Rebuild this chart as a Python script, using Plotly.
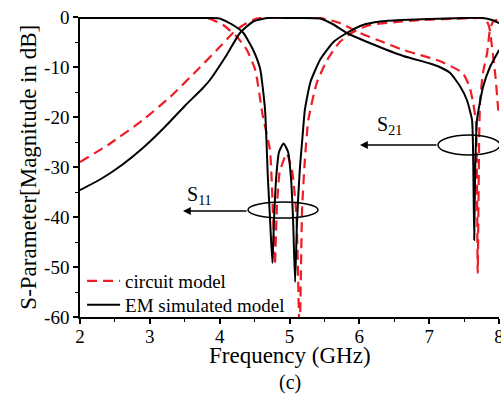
import plotly.graph_objects as go

# Frequency (GHz) / magnitude (dB) samples for each curve
em_s21_f = [2.0, 2.3, 2.6, 2.9, 3.2, 3.5, 3.76, 3.86, 4.1, 4.29, 4.48, 4.68, 5.0, 5.44,
            5.63, 5.82, 6.15, 6.63, 7.01, 7.15, 7.3, 7.44, 7.54, 7.614, 7.63, 7.645,
            7.66, 7.685, 7.771, 7.871, 7.986, 8.0]
em_s21_db = [-34.6, -32.4, -29.6, -26.2, -22.2, -17.8, -14.2, -12.6, -7.6, -3.2, -0.9, -0.2,
             -0.2, -0.3, -1.5, -3.2, -5.2, -7.8, -9.3, -10.0, -11.2, -13.8, -16.6, -20.6,
             -28.0, -44.6, -30.0, -20.6, -14.0, -10.0, -7.0, -6.6]

em_s11_f = [2.0, 3.0, 3.9, 4.0, 4.19, 4.34, 4.48, 4.58, 4.65, 4.69, 4.72, 4.755, 4.78,
            4.81, 4.85, 4.915, 4.98, 5.02, 5.05, 5.08, 5.105, 5.125, 5.15, 5.18, 5.22,
            5.3, 5.44, 5.63, 5.82, 6.05, 6.3, 6.6, 7.0, 7.5, 7.77, 7.9, 8.0]
em_s11_db = [-0.2, -0.2, -0.2, -0.3, -1.6, -3.2, -6.6, -10.4, -18.6, -32.0, -40.0, -49.2,
             -40.0, -32.0, -27.0, -25.3, -27.0, -32.0, -40.0, -53.0, -42.0, -36.0, -30.0,
             -25.0, -18.6, -13.0, -8.5, -5.0, -3.2, -1.6, -0.9, -0.6, -0.4, -0.2, -0.2,
             -0.6, -1.2]

cm_s21_f = [2.0, 2.4, 2.9, 3.29, 3.68, 3.96, 4.19, 4.34, 4.53, 5.0, 5.44, 5.72, 6.01, 6.3,
            6.63, 6.87, 7.15, 7.48, 7.58, 7.63, 7.67, 7.695, 7.715, 7.73, 7.77, 7.83,
            7.87, 7.92, 8.0]
cm_s21_db = [-29.0, -25.6, -20.6, -16.0, -10.6, -6.6, -3.2, -1.6, -0.3, -0.2, -0.2, -1.2,
             -3.2, -4.8, -6.6, -7.6, -8.8, -11.2, -14.0, -17.2, -21.0, -51.2, -25.0,
             -16.6, -11.2, -7.2, -2.6, -0.8, -0.5]

cm_s11_f = [2.0, 3.0, 3.82, 4.05, 4.25, 4.39, 4.51, 4.62, 4.72, 4.76, 4.79, 4.82, 4.86,
            4.96, 5.04, 5.1, 5.145, 5.18, 5.22, 5.27, 5.39, 5.54, 5.72, 5.91, 6.15, 6.54,
            6.87, 7.5, 7.8, 7.86, 7.9, 7.95, 7.98, 8.0]
cm_s11_db = [-0.2, -0.2, -0.2, -1.6, -4.0, -6.6, -10.6, -20.0, -26.6, -38.0, -49.6, -38.0,
             -31.0, -27.3, -31.0, -40.0, -64.0, -38.6, -28.6, -20.6, -13.2, -8.6, -5.0,
             -3.0, -1.6, -1.0, -0.6, -0.3, -0.3, -2.0, -6.0, -12.0, -17.0, -20.0]

x_ticks = [2, 3, 4, 5, 6, 7, 8]
x_tick_text = ["2", "3", "4", "5", "6", "7", "8"]
y_ticks = [0, -10, -20, -30, -40, -50, -60]
y_tick_text = ["0", "-10", "-20", "-30", "-40", "-50", "-60"]

SERIF = "Liberation Serif, Times New Roman, serif"
RED = "#ee1c25"
CM_LINE = dict(color=RED, width=2.2, dash="10px,6px", shape="spline", smoothing=0.5)
EM_LINE = dict(color="black", width=2, shape="spline", smoothing=0.5)

fig = go.Figure()

# circuit model (dashed red); S11 carries the legend entry
fig.add_trace(go.Scatter(x=cm_s11_f, y=cm_s11_db, mode="lines", name="circuit model",
                         line=CM_LINE, legend="legend"))
fig.add_trace(go.Scatter(x=cm_s21_f, y=cm_s21_db, mode="lines", name="circuit model",
                         line=CM_LINE, showlegend=False))
# EM simulated model (solid black)
fig.add_trace(go.Scatter(x=em_s11_f, y=em_s11_db, mode="lines", name="EM simulated model",
                         line=EM_LINE, legend="legend2"))
fig.add_trace(go.Scatter(x=em_s21_f, y=em_s21_db, mode="lines", name="EM simulated model",
                         line=EM_LINE, showlegend=False))

# ellipses marking the S11 and S21 curve groups
fig.add_shape(type="circle", xref="x", yref="y", x0=4.406, x1=5.408, y0=-37.0, y1=-40.2,
              line=dict(color="black", width=1.5))
fig.add_shape(type="circle", xref="x", yref="y", x0=7.127, x1=8.015, y0=-23.6, y1=-27.6,
              line=dict(color="black", width=1.5))

annotations = [
    # arrows from ellipses to labels
    dict(x=3.475, y=-38.8, ax=4.406, ay=-38.8, xref="x", yref="y", axref="x", ayref="y",
         text="", showarrow=True, arrowhead=2, arrowsize=1.2, arrowwidth=1.3, arrowcolor="black"),
    dict(x=6.01, y=-25.6, ax=7.127, ay=-25.6, xref="x", yref="y", axref="x", ayref="y",
         text="", showarrow=True, arrowhead=2, arrowsize=1.2, arrowwidth=1.3, arrowcolor="black"),
    dict(x=3.50, y=-35.6, xref="x", yref="y", text="S<sub>11</sub>", showarrow=False,
         xanchor="left", yanchor="middle", font=dict(family=SERIF, size=20, color="black")),
    dict(x=6.22, y=-21.6, xref="x", yref="y", text="S<sub>21</sub>", showarrow=False,
         xanchor="left", yanchor="middle", font=dict(family=SERIF, size=20, color="black")),
    # axis titles and panel tag
    dict(x=0.5, y=-0.127, xref="paper", yref="paper", text="Frequency (GHz)",
         showarrow=False, xanchor="center", yanchor="middle",
         font=dict(family=SERIF, size=23, color="black")),
    dict(x=-0.125, y=0.5, xref="paper", yref="paper", text="S-Parameter[Magnitude in dB]",
         showarrow=False, xanchor="center", yanchor="middle", textangle=-90,
         font=dict(family=SERIF, size=23, color="black")),
    dict(x=0.5, y=-0.217, xref="paper", yref="paper", text="(c)",
         showarrow=False, xanchor="center", yanchor="middle",
         font=dict(family=SERIF, size=20, color="black")),
]

axis_common = dict(
    showgrid=False, zeroline=False, showline=True, linecolor="black", linewidth=1.5,
    ticks="outside", ticklen=5, tickwidth=1.5, tickcolor="black",
    ticklabeloverflow="allow", automargin=False,
    tickfont=dict(family=SERIF, size=19, color="black"),
)

legend_common = dict(xanchor="left", yanchor="middle", bgcolor="rgba(0,0,0,0)",
                     itemwidth=33, font=dict(family=SERIF, size=19, color="black"))

fig.update_layout(
    width=501, height=394,
    margin=dict(l=80, r=2, t=17, b=77, autoexpand=False),
    paper_bgcolor="white", plot_bgcolor="white",
    xaxis=dict(range=[2, 8], tickvals=x_ticks, ticktext=x_tick_text, ticklabelstandoff=-4,
               minor=dict(ticks="outside", ticklen=3, tickwidth=1.2, tickcolor="black", dtick=0.5),
               **axis_common),
    yaxis=dict(range=[-60, 0], tickvals=y_ticks, ticktext=y_tick_text,
               minor=dict(ticks="outside", ticklen=3, tickwidth=1.2, tickcolor="black", dtick=5),
               **axis_common),
    legend=dict(x=0.005, y=0.12, **legend_common),
    legend2=dict(x=0.005, y=0.04, **legend_common),
    annotations=annotations,
    showlegend=True,
)

fig.write_html("out.html")
